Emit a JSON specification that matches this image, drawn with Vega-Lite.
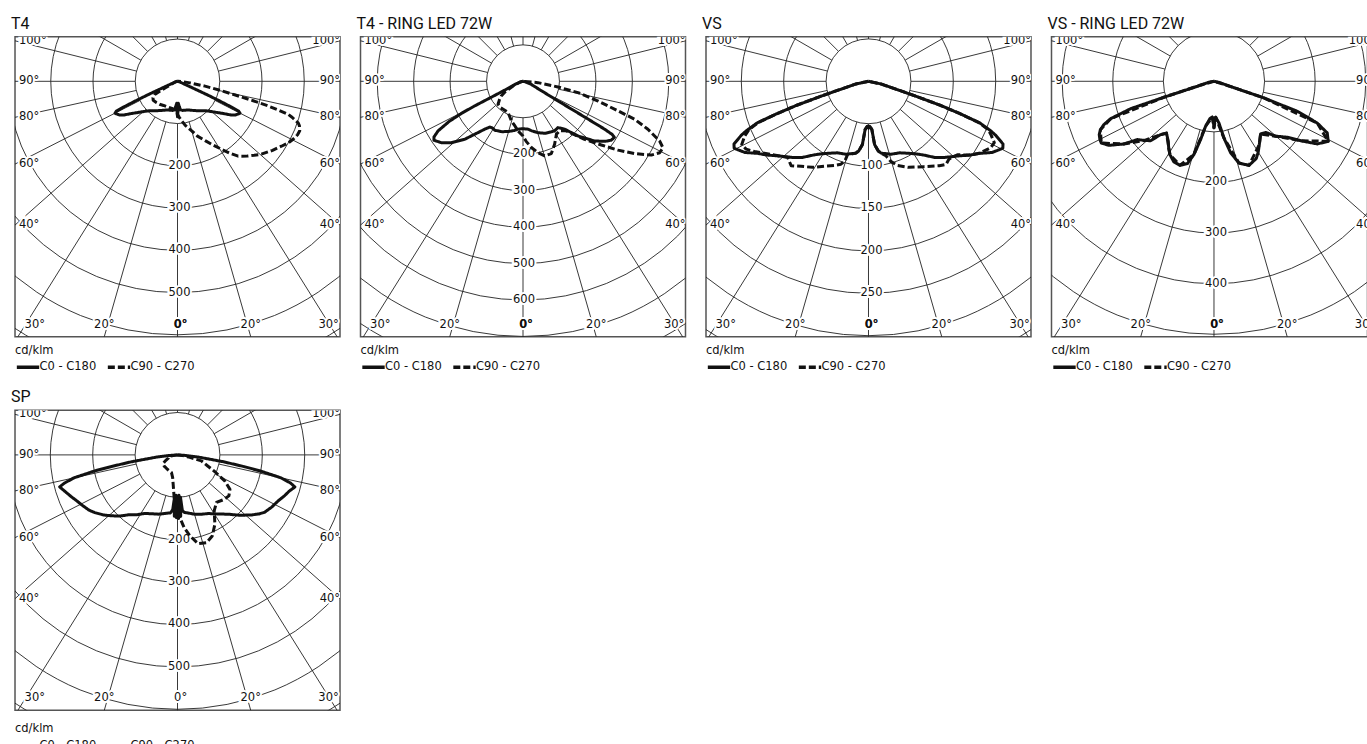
{
"$schema": "https://vega.github.io/schema/vega-lite/v6.json",
"padding": {"left": 10, "top": 14.7, "right": 0, "bottom": 0},
"background": "white",
"bounds": "flush",
"columns": 4,
"spacing": {"row": 73.6, "column": 20.5},
"resolve": {"scale": {"size": "independent", "strokeDash": "independent"}, "legend": {"strokeDash": "independent", "size": "independent"}},
"config": {
 "font": "DejaVu Sans",
 "view": {"stroke": "#555", "strokeWidth": 1.5},
 "title": {"font": "Roboto", "fontSize": 16, "fontWeight": "normal", "anchor": "start", "color": "#111", "offset": 5, "dx": -4},
 "legend": {"orient": "bottom", "direction": "horizontal", "titleOrient": "top", "titleAnchor": "start", "titleFontSize": 11.5, "titleFontWeight": "normal", "titleFont": "DejaVu Sans", "titleColor": "#111", "titlePadding": -2, "labelFontSize": 11.5, "labelFont": "DejaVu Sans", "labelColor": "#111", "labelOffset": -1.5, "symbolType": "stroke", "symbolSize": 500, "symbolStrokeWidth": 3.5, "symbolStrokeColor": "#111", "columnPadding": 3, "offset": 8, "padding": 0}
},
"datasets": {
 "ang": [{"g":0},{"g":16},{"g":-16},{"g":32},{"g":-32},{"g":48.5},{"g":-48.5},{"g":63},{"g":-63},{"g":77.5},{"g":-77.5},{"g":90},{"g":-90},{"g":104},{"g":-104},{"g":120},{"g":-120},{"g":135},{"g":-135},{"g":150},{"g":-150},{"g":165},{"g":-165},{"g":180}],
 "deg": [{"t":"100°","g":-104},{"t":"90°","g":-90},{"t":"80°","g":-77.5},{"t":"60°","g":-63},{"t":"40°","g":-48.5},{"t":"30°","g":-29.2},{"t":"20°","g":-16},{"t":"0°","g":0.7},{"t":"20°","g":16},{"t":"30°","g":30.6},{"t":"40°","g":48.5},{"t":"60°","g":63},{"t":"80°","g":77.5},{"t":"90°","g":90},{"t":"100°","g":104}],
 "circ_a": [{"r":100},{"r":200},{"r":300},{"r":400},{"r":500},{"r":600},{"r":700}],
 "circ_b": [{"r":100},{"r":200},{"r":300},{"r":400},{"r":500},{"r":600},{"r":700},{"r":800}],
 "circ_c": [{"r":50},{"r":100},{"r":150},{"r":200},{"r":250},{"r":300},{"r":350}],
 "circ_d": [{"r":100},{"r":200},{"r":300},{"r":400},{"r":500}],
 "val_a": [{"v":200},{"v":300},{"v":400},{"v":500}],
 "val_b": [{"v":200},{"v":300},{"v":400},{"v":500},{"v":600}],
 "val_c": [{"v":100},{"v":150},{"v":200},{"v":250}],
 "val_d": [{"v":200},{"v":300},{"v":400}],
 "d_t4": [
  {"c":"C0 - C180","g":-90,"v":0},{"c":"C0 - C180","g":-80,"v":3},{"c":"C0 - C180","g":-70,"v":10},{"c":"C0 - C180","g":-67,"v":25},{"c":"C0 - C180","g":-66,"v":50},{"c":"C0 - C180","g":-65.5,"v":80},{"c":"C0 - C180","g":-65,"v":110},{"c":"C0 - C180","g":-64.5,"v":140},{"c":"C0 - C180","g":-64,"v":161},{"c":"C0 - C180","g":-63,"v":166},{"c":"C0 - C180","g":-62,"v":164},{"c":"C0 - C180","g":-60,"v":159},{"c":"C0 - C180","g":-58,"v":151},{"c":"C0 - C180","g":-55,"v":133},{"c":"C0 - C180","g":-50,"v":113},{"c":"C0 - C180","g":-45,"v":99},{"c":"C0 - C180","g":-40,"v":91},{"c":"C0 - C180","g":-30,"v":80},{"c":"C0 - C180","g":-20,"v":72},{"c":"C0 - C180","g":-10,"v":70},{"c":"C0 - C180","g":-6,"v":68},{"c":"C0 - C180","g":-4,"v":60},{"c":"C0 - C180","g":-2,"v":52},{"c":"C0 - C180","g":-1,"v":70},{"c":"C0 - C180","g":0,"v":84},{"c":"C0 - C180","g":1,"v":70},{"c":"C0 - C180","g":2,"v":52},{"c":"C0 - C180","g":4,"v":60},{"c":"C0 - C180","g":6,"v":68},{"c":"C0 - C180","g":10,"v":70},{"c":"C0 - C180","g":20,"v":72},{"c":"C0 - C180","g":30,"v":80},{"c":"C0 - C180","g":40,"v":91},{"c":"C0 - C180","g":45,"v":99},{"c":"C0 - C180","g":50,"v":113},{"c":"C0 - C180","g":55,"v":133},{"c":"C0 - C180","g":58,"v":151},{"c":"C0 - C180","g":60,"v":159},{"c":"C0 - C180","g":62,"v":164},{"c":"C0 - C180","g":63,"v":166},{"c":"C0 - C180","g":64,"v":161},{"c":"C0 - C180","g":64.5,"v":140},{"c":"C0 - C180","g":65,"v":110},{"c":"C0 - C180","g":65.5,"v":80},{"c":"C0 - C180","g":66,"v":50},{"c":"C0 - C180","g":67,"v":25},{"c":"C0 - C180","g":70,"v":10},{"c":"C0 - C180","g":80,"v":3},{"c":"C0 - C180","g":90,"v":0},
  {"c":"C90 - C270","g":-90,"v":0},{"c":"C90 - C270","g":-75,"v":5},{"c":"C90 - C270","g":-65,"v":15},{"c":"C90 - C270","g":-62,"v":30},{"c":"C90 - C270","g":-61,"v":45},{"c":"C90 - C270","g":-60,"v":62},{"c":"C90 - C270","g":-56,"v":70},{"c":"C90 - C270","g":-52,"v":73},{"c":"C90 - C270","g":-45,"v":71},{"c":"C90 - C270","g":-38,"v":69},{"c":"C90 - C270","g":-30,"v":66},{"c":"C90 - C270","g":-20,"v":65},{"c":"C90 - C270","g":-10,"v":66},{"c":"C90 - C270","g":-5,"v":69},{"c":"C90 - C270","g":0,"v":78},{"c":"C90 - C270","g":3,"v":86},{"c":"C90 - C270","g":6,"v":94},{"c":"C90 - C270","g":10,"v":106},{"c":"C90 - C270","g":16,"v":122},{"c":"C90 - C270","g":20,"v":138},{"c":"C90 - C270","g":25,"v":155},{"c":"C90 - C270","g":29,"v":172},{"c":"C90 - C270","g":33,"v":192},{"c":"C90 - C270","g":36,"v":210},{"c":"C90 - C270","g":39,"v":228},{"c":"C90 - C270","g":43,"v":242},{"c":"C90 - C270","g":46,"v":252},{"c":"C90 - C270","g":49,"v":263},{"c":"C90 - C270","g":54,"v":278},{"c":"C90 - C270","g":58,"v":290},{"c":"C90 - C270","g":61,"v":300},{"c":"C90 - C270","g":63.4,"v":306},{"c":"C90 - C270","g":66,"v":311},{"c":"C90 - C270","g":68,"v":312},{"c":"C90 - C270","g":70,"v":307},{"c":"C90 - C270","g":71,"v":302},{"c":"C90 - C270","g":72.5,"v":285},{"c":"C90 - C270","g":73.4,"v":273},{"c":"C90 - C270","g":74.2,"v":245},{"c":"C90 - C270","g":74.8,"v":222},{"c":"C90 - C270","g":75.6,"v":185},{"c":"C90 - C270","g":76.4,"v":148},{"c":"C90 - C270","g":78,"v":105},{"c":"C90 - C270","g":80,"v":66},{"c":"C90 - C270","g":83,"v":30},{"c":"C90 - C270","g":86,"v":12},{"c":"C90 - C270","g":90,"v":0}
 ],
 "d_t4r": [
  {"c":"C0 - C180","g":-90,"v":0},{"c":"C0 - C180","g":-75,"v":8},{"c":"C0 - C180","g":-70,"v":20},{"c":"C0 - C180","g":-64,"v":60},{"c":"C0 - C180","g":-63.3,"v":100},{"c":"C0 - C180","g":-63,"v":150},{"c":"C0 - C180","g":-62.5,"v":190},{"c":"C0 - C180","g":-61.5,"v":230},{"c":"C0 - C180","g":-59.7,"v":270},{"c":"C0 - C180","g":-58,"v":288},{"c":"C0 - C180","g":-56.5,"v":293},{"c":"C0 - C180","g":-53,"v":280},{"c":"C0 - C180","g":-49.4,"v":259},{"c":"C0 - C180","g":-45.2,"v":226},{"c":"C0 - C180","g":-42.4,"v":197},{"c":"C0 - C180","g":-38.6,"v":168},{"c":"C0 - C180","g":-36,"v":155},{"c":"C0 - C180","g":-33,"v":153},{"c":"C0 - C180","g":-30,"v":155},{"c":"C0 - C180","g":-23,"v":150},{"c":"C0 - C180","g":-16.6,"v":144},{"c":"C0 - C180","g":-10,"v":137},{"c":"C0 - C180","g":-6,"v":132},{"c":"C0 - C180","g":0,"v":130},{"c":"C0 - C180","g":6,"v":132},{"c":"C0 - C180","g":10,"v":138},{"c":"C0 - C180","g":16.3,"v":147},{"c":"C0 - C180","g":23,"v":155},{"c":"C0 - C180","g":29.2,"v":159},{"c":"C0 - C180","g":33,"v":161},{"c":"C0 - C180","g":37,"v":159},{"c":"C0 - C180","g":41,"v":174},{"c":"C0 - C180","g":45.2,"v":213},{"c":"C0 - C180","g":50.2,"v":256},{"c":"C0 - C180","g":54,"v":280},{"c":"C0 - C180","g":56.3,"v":291},{"c":"C0 - C180","g":58.5,"v":294},{"c":"C0 - C180","g":59.2,"v":285},{"c":"C0 - C180","g":59.6,"v":260},{"c":"C0 - C180","g":59.9,"v":196},{"c":"C0 - C180","g":60.7,"v":110},{"c":"C0 - C180","g":63,"v":55},{"c":"C0 - C180","g":67,"v":30},{"c":"C0 - C180","g":70,"v":24},{"c":"C0 - C180","g":80,"v":5},{"c":"C0 - C180","g":90,"v":0},
  {"c":"C90 - C270","g":-90,"v":0},{"c":"C90 - C270","g":-75,"v":8},{"c":"C90 - C270","g":-65,"v":30},{"c":"C90 - C270","g":-60,"v":55},{"c":"C90 - C270","g":-56,"v":72},{"c":"C90 - C270","g":-52,"v":82},{"c":"C90 - C270","g":-47.4,"v":93},{"c":"C90 - C270","g":-40,"v":95},{"c":"C90 - C270","g":-33,"v":94},{"c":"C90 - C270","g":-25.6,"v":95},{"c":"C90 - C270","g":-16.4,"v":113},{"c":"C90 - C270","g":-10,"v":125},{"c":"C90 - C270","g":-5.7,"v":137},{"c":"C90 - C270","g":0,"v":150},{"c":"C90 - C270","g":3,"v":165},{"c":"C90 - C270","g":7.2,"v":183},{"c":"C90 - C270","g":11.9,"v":200},{"c":"C90 - C270","g":16.2,"v":213},{"c":"C90 - C270","g":21.4,"v":213},{"c":"C90 - C270","g":26.7,"v":193},{"c":"C90 - C270","g":32.2,"v":172},{"c":"C90 - C270","g":36.4,"v":169},{"c":"C90 - C270","g":41,"v":180},{"c":"C90 - C270","g":46.7,"v":232},{"c":"C90 - C270","g":50.9,"v":277},{"c":"C90 - C270","g":54.1,"v":322},{"c":"C90 - C270","g":57.1,"v":365},{"c":"C90 - C270","g":60.1,"v":406},{"c":"C90 - C270","g":62.4,"v":423},{"c":"C90 - C270","g":64.6,"v":425},{"c":"C90 - C270","g":66.4,"v":409},{"c":"C90 - C270","g":69,"v":367},{"c":"C90 - C270","g":71.2,"v":324},{"c":"C90 - C270","g":72.7,"v":273},{"c":"C90 - C270","g":75.3,"v":213},{"c":"C90 - C270","g":78.4,"v":154},{"c":"C90 - C270","g":80.8,"v":97},{"c":"C90 - C270","g":84.9,"v":41},{"c":"C90 - C270","g":90,"v":0}
 ],
 "d_vs": [
  {"c":"C0 - C180","g":-90,"v":0},{"c":"C0 - C180","g":-78,"v":15},{"c":"C0 - C180","g":-73.5,"v":40},{"c":"C0 - C180","g":-72.5,"v":60},{"c":"C0 - C180","g":-71.5,"v":90},{"c":"C0 - C180","g":-70.5,"v":115},{"c":"C0 - C180","g":-69.5,"v":140},{"c":"C0 - C180","g":-68,"v":155},{"c":"C0 - C180","g":-67,"v":163},{"c":"C0 - C180","g":-65,"v":175},{"c":"C0 - C180","g":-63.5,"v":177},{"c":"C0 - C180","g":-62,"v":173},{"c":"C0 - C180","g":-60,"v":168},{"c":"C0 - C180","g":-57,"v":156},{"c":"C0 - C180","g":-54,"v":148},{"c":"C0 - C180","g":-50,"v":137},{"c":"C0 - C180","g":-45,"v":127},{"c":"C0 - C180","g":-41,"v":119},{"c":"C0 - C180","g":-36.5,"v":108},{"c":"C0 - C180","g":-33,"v":102},{"c":"C0 - C180","g":-28,"v":96},{"c":"C0 - C180","g":-23.5,"v":92},{"c":"C0 - C180","g":-17,"v":90},{"c":"C0 - C180","g":-10,"v":86},{"c":"C0 - C180","g":-8,"v":83},{"c":"C0 - C180","g":-5.5,"v":75},{"c":"C0 - C180","g":-4,"v":57},{"c":"C0 - C180","g":-1.5,"v":53},{"c":"C0 - C180","g":0,"v":55},{"c":"C0 - C180","g":1.5,"v":53},{"c":"C0 - C180","g":4,"v":57},{"c":"C0 - C180","g":5.5,"v":75},{"c":"C0 - C180","g":8,"v":83},{"c":"C0 - C180","g":10,"v":86},{"c":"C0 - C180","g":17,"v":90},{"c":"C0 - C180","g":23.5,"v":92},{"c":"C0 - C180","g":28,"v":96},{"c":"C0 - C180","g":33,"v":102},{"c":"C0 - C180","g":36.5,"v":108},{"c":"C0 - C180","g":41,"v":119},{"c":"C0 - C180","g":45,"v":127},{"c":"C0 - C180","g":50,"v":137},{"c":"C0 - C180","g":54,"v":148},{"c":"C0 - C180","g":57,"v":156},{"c":"C0 - C180","g":60,"v":168},{"c":"C0 - C180","g":62,"v":173},{"c":"C0 - C180","g":63.5,"v":177},{"c":"C0 - C180","g":65,"v":175},{"c":"C0 - C180","g":67,"v":163},{"c":"C0 - C180","g":68,"v":155},{"c":"C0 - C180","g":69.5,"v":140},{"c":"C0 - C180","g":70.5,"v":115},{"c":"C0 - C180","g":71.5,"v":90},{"c":"C0 - C180","g":72.5,"v":60},{"c":"C0 - C180","g":73.5,"v":40},{"c":"C0 - C180","g":78,"v":15},{"c":"C0 - C180","g":90,"v":0},
  {"c":"C90 - C270","g":-90,"v":0},{"c":"C90 - C270","g":-78,"v":15},{"c":"C90 - C270","g":-73.5,"v":40},{"c":"C90 - C270","g":-72.5,"v":60},{"c":"C90 - C270","g":-71.5,"v":90},{"c":"C90 - C270","g":-70.5,"v":115},{"c":"C90 - C270","g":-69.5,"v":139},{"c":"C90 - C270","g":-68,"v":152},{"c":"C90 - C270","g":-66,"v":160},{"c":"C90 - C270","g":-63.5,"v":167},{"c":"C90 - C270","g":-61,"v":165},{"c":"C90 - C270","g":-58.4,"v":158},{"c":"C90 - C270","g":-53.2,"v":144},{"c":"C90 - C270","g":-50,"v":137},{"c":"C90 - C270","g":-46.7,"v":131},{"c":"C90 - C270","g":-42.5,"v":135},{"c":"C90 - C270","g":-38.4,"v":128},{"c":"C90 - C270","g":-33,"v":121},{"c":"C90 - C270","g":-27.6,"v":113},{"c":"C90 - C270","g":-22,"v":107},{"c":"C90 - C270","g":-18.4,"v":103},{"c":"C90 - C270","g":-16.5,"v":98},{"c":"C90 - C270","g":-15.9,"v":90},{"c":"C90 - C270","g":-10,"v":86},{"c":"C90 - C270","g":-8,"v":83},{"c":"C90 - C270","g":-5.5,"v":75},{"c":"C90 - C270","g":-4,"v":57},{"c":"C90 - C270","g":-1.5,"v":53},{"c":"C90 - C270","g":0,"v":55},{"c":"C90 - C270","g":1.5,"v":53},{"c":"C90 - C270","g":4,"v":57},{"c":"C90 - C270","g":5.5,"v":75},{"c":"C90 - C270","g":8,"v":83},{"c":"C90 - C270","g":10,"v":86},{"c":"C90 - C270","g":13.1,"v":90},{"c":"C90 - C270","g":15.5,"v":98},{"c":"C90 - C270","g":19,"v":105},{"c":"C90 - C270","g":25,"v":112},{"c":"C90 - C270","g":33,"v":120},{"c":"C90 - C270","g":40,"v":130},{"c":"C90 - C270","g":43,"v":134},{"c":"C90 - C270","g":46,"v":132},{"c":"C90 - C270","g":50.4,"v":136},{"c":"C90 - C270","g":54,"v":148},{"c":"C90 - C270","g":57,"v":156},{"c":"C90 - C270","g":61.5,"v":164},{"c":"C90 - C270","g":64,"v":165},{"c":"C90 - C270","g":66.6,"v":157},{"c":"C90 - C270","g":68,"v":152},{"c":"C90 - C270","g":69.5,"v":139},{"c":"C90 - C270","g":70.5,"v":115},{"c":"C90 - C270","g":71.5,"v":90},{"c":"C90 - C270","g":72.5,"v":60},{"c":"C90 - C270","g":73.5,"v":40},{"c":"C90 - C270","g":78,"v":15},{"c":"C90 - C270","g":90,"v":0}
 ],
 "d_vsr": [
  {"c":"C90 - C270","g":-90,"v":0},{"c":"C90 - C270","g":-74,"v":28},{"c":"C90 - C270","g":-72.3,"v":104},{"c":"C90 - C270","g":-70.1,"v":217},{"c":"C90 - C270","g":-66.9,"v":244},{"c":"C90 - C270","g":-61.3,"v":254},{"c":"C90 - C270","g":-55.2,"v":217},{"c":"C90 - C270","g":-49.5,"v":180},{"c":"C90 - C270","g":-45,"v":149},{"c":"C90 - C270","g":-42.5,"v":139},{"c":"C90 - C270","g":-31,"v":169},{"c":"C90 - C270","g":-22,"v":179},{"c":"C90 - C270","g":-15.3,"v":150},{"c":"C90 - C270","g":-10.5,"v":90},{"c":"C90 - C270","g":-2.7,"v":71},{"c":"C90 - C270","g":0,"v":92},{"c":"C90 - C270","g":2.7,"v":71},{"c":"C90 - C270","g":10,"v":114},{"c":"C90 - C270","g":17,"v":169},{"c":"C90 - C270","g":22.6,"v":180},{"c":"C90 - C270","g":35.6,"v":154},{"c":"C90 - C270","g":41.5,"v":139},{"c":"C90 - C270","g":48.3,"v":163},{"c":"C90 - C270","g":55.6,"v":208},{"c":"C90 - C270","g":62.3,"v":255},{"c":"C90 - C270","g":68,"v":220},{"c":"C90 - C270","g":71.6,"v":104},{"c":"C90 - C270","g":72.5,"v":35},{"c":"C90 - C270","g":90,"v":0},
  {"c":"C0 - C180","g":-90,"v":0},{"c":"C0 - C180","g":-80,"v":10},{"c":"C0 - C180","g":-74,"v":28},{"c":"C0 - C180","g":-73.3,"v":34},{"c":"C0 - C180","g":-72.3,"v":104},{"c":"C0 - C180","g":-71.8,"v":173},{"c":"C0 - C180","g":-70.1,"v":217},{"c":"C0 - C180","g":-68.5,"v":234},{"c":"C0 - C180","g":-66.9,"v":244},{"c":"C0 - C180","g":-65.1,"v":250},{"c":"C0 - C180","g":-63,"v":253},{"c":"C0 - C180","g":-61.3,"v":254},{"c":"C0 - C180","g":-58.6,"v":243},{"c":"C0 - C180","g":-55.2,"v":217},{"c":"C0 - C180","g":-52.7,"v":190},{"c":"C0 - C180","g":-49.5,"v":180},{"c":"C0 - C180","g":-46.9,"v":172},{"c":"C0 - C180","g":-45,"v":149},{"c":"C0 - C180","g":-42.5,"v":139},{"c":"C0 - C180","g":-37.3,"v":149},{"c":"C0 - C180","g":-34,"v":160},{"c":"C0 - C180","g":-31,"v":169},{"c":"C0 - C180","g":-26.4,"v":178},{"c":"C0 - C180","g":-22,"v":179},{"c":"C0 - C180","g":-17.9,"v":171},{"c":"C0 - C180","g":-15.3,"v":150},{"c":"C0 - C180","g":-12.9,"v":118},{"c":"C0 - C180","g":-10.5,"v":90},{"c":"C0 - C180","g":-6.1,"v":74},{"c":"C0 - C180","g":-2.7,"v":71},{"c":"C0 - C180","g":-1,"v":78},{"c":"C0 - C180","g":0,"v":92},{"c":"C0 - C180","g":1,"v":78},{"c":"C0 - C180","g":2.7,"v":71},{"c":"C0 - C180","g":6.8,"v":83},{"c":"C0 - C180","g":10,"v":114},{"c":"C0 - C180","g":13.1,"v":145},{"c":"C0 - C180","g":17,"v":169},{"c":"C0 - C180","g":22.6,"v":180},{"c":"C0 - C180","g":28.7,"v":174},{"c":"C0 - C180","g":32,"v":165},{"c":"C0 - C180","g":35.6,"v":154},{"c":"C0 - C180","g":41.5,"v":139},{"c":"C0 - C180","g":45.4,"v":144},{"c":"C0 - C180","g":48.3,"v":163},{"c":"C0 - C180","g":52.6,"v":182},{"c":"C0 - C180","g":55.6,"v":208},{"c":"C0 - C180","g":58.8,"v":239},{"c":"C0 - C180","g":62.3,"v":255},{"c":"C0 - C180","g":65.5,"v":246},{"c":"C0 - C180","g":68,"v":220},{"c":"C0 - C180","g":70.2,"v":175},{"c":"C0 - C180","g":71.6,"v":104},{"c":"C0 - C180","g":71.9,"v":60},{"c":"C0 - C180","g":72.5,"v":35},{"c":"C0 - C180","g":78,"v":10},{"c":"C0 - C180","g":90,"v":0}
 ],
 "d_sp": [
  {"c":"C0 - C180","g":-90,"v":0},{"c":"C0 - C180","g":-86,"v":20},{"c":"C0 - C180","g":-84,"v":50},{"c":"C0 - C180","g":-81.5,"v":110},{"c":"C0 - C180","g":-80,"v":160},{"c":"C0 - C180","g":-79,"v":200},{"c":"C0 - C180","g":-77.5,"v":250},{"c":"C0 - C180","g":-76,"v":275},{"c":"C0 - C180","g":-74.8,"v":288},{"c":"C0 - C180","g":-72,"v":279},{"c":"C0 - C180","g":-68.4,"v":269},{"c":"C0 - C180","g":-65,"v":260},{"c":"C0 - C180","g":-62.5,"v":255},{"c":"C0 - C180","g":-58,"v":246},{"c":"C0 - C180","g":-55.1,"v":238},{"c":"C0 - C180","g":-51,"v":225},{"c":"C0 - C180","g":-47.3,"v":212},{"c":"C0 - C180","g":-43,"v":197},{"c":"C0 - C180","g":-39.4,"v":183},{"c":"C0 - C180","g":-34,"v":170},{"c":"C0 - C180","g":-29.1,"v":158},{"c":"C0 - C180","g":-23,"v":151},{"c":"C0 - C180","g":-18,"v":147},{"c":"C0 - C180","g":-14,"v":143},{"c":"C0 - C180","g":-10.7,"v":140},{"c":"C0 - C180","g":-7,"v":138},{"c":"C0 - C180","g":-5,"v":130},{"c":"C0 - C180","g":-4,"v":100},{"c":"C0 - C180","g":-3,"v":145},{"c":"C0 - C180","g":-2,"v":95},{"c":"C0 - C180","g":-1,"v":148},{"c":"C0 - C180","g":0,"v":100},{"c":"C0 - C180","g":1,"v":150},{"c":"C0 - C180","g":2,"v":95},{"c":"C0 - C180","g":3,"v":145},{"c":"C0 - C180","g":4,"v":100},{"c":"C0 - C180","g":5,"v":132},{"c":"C0 - C180","g":7,"v":137},{"c":"C0 - C180","g":10,"v":139},{"c":"C0 - C180","g":16.3,"v":146},{"c":"C0 - C180","g":22,"v":151},{"c":"C0 - C180","g":27.6,"v":156},{"c":"C0 - C180","g":34,"v":168},{"c":"C0 - C180","g":40.5,"v":184},{"c":"C0 - C180","g":46,"v":205},{"c":"C0 - C180","g":51,"v":225},{"c":"C0 - C180","g":54,"v":237},{"c":"C0 - C180","g":56.6,"v":246},{"c":"C0 - C180","g":61,"v":254},{"c":"C0 - C180","g":65.4,"v":261},{"c":"C0 - C180","g":69,"v":270},{"c":"C0 - C180","g":72,"v":277},{"c":"C0 - C180","g":74.7,"v":287},{"c":"C0 - C180","g":76,"v":275},{"c":"C0 - C180","g":77.5,"v":250},{"c":"C0 - C180","g":79,"v":200},{"c":"C0 - C180","g":80,"v":160},{"c":"C0 - C180","g":81.5,"v":110},{"c":"C0 - C180","g":84,"v":50},{"c":"C0 - C180","g":86,"v":20},{"c":"C0 - C180","g":90,"v":0},
  {"c":"C90 - C270","g":-90,"v":0},{"c":"C90 - C270","g":-80,"v":20},{"c":"C90 - C270","g":-70.3,"v":23},{"c":"C90 - C270","g":-64,"v":32},{"c":"C90 - C270","g":-58.8,"v":40},{"c":"C90 - C270","g":-50,"v":41},{"c":"C90 - C270","g":-39.5,"v":41},{"c":"C90 - C270","g":-30,"v":42},{"c":"C90 - C270","g":-18.8,"v":44},{"c":"C90 - C270","g":-12,"v":55},{"c":"C90 - C270","g":-8.4,"v":70},{"c":"C90 - C270","g":-4.5,"v":101},{"c":"C90 - C270","g":-1.1,"v":124},{"c":"C90 - C270","g":2.1,"v":148},{"c":"C90 - C270","g":5.2,"v":172},{"c":"C90 - C270","g":8.7,"v":193},{"c":"C90 - C270","g":13.1,"v":215},{"c":"C90 - C270","g":18.3,"v":218},{"c":"C90 - C270","g":23.2,"v":208},{"c":"C90 - C270","g":28.3,"v":186},{"c":"C90 - C270","g":33.2,"v":158},{"c":"C90 - C270","g":39.3,"v":145},{"c":"C90 - C270","g":46.3,"v":152},{"c":"C90 - C270","g":51.4,"v":155},{"c":"C90 - C270","g":56.7,"v":148},{"c":"C90 - C270","g":61.2,"v":127},{"c":"C90 - C270","g":65.9,"v":96},{"c":"C90 - C270","g":70,"v":75},{"c":"C90 - C270","g":76,"v":58},{"c":"C90 - C270","g":79.4,"v":26},{"c":"C90 - C270","g":83,"v":12},{"c":"C90 - C270","g":90,"v":0}
 ]
},
"concat": [
 {
  "title": {"text": "T4"},
  "width": 325, "height": 300,
  "encoding": {
   "x": {"field": "x", "type": "quantitative", "scale": {"domain": [-384.6, 384.6], "nice": false, "zero": false}, "axis": null},
   "y": {"field": "y", "type": "quantitative", "scale": {"domain": [-604.5, 105.6], "nice": false, "zero": false}, "axis": null}
  },
  "layer": [
   {"data": {"name": "circ_a"}, "transform": [{"calculate": "0", "as": "x"}, {"calculate": "0", "as": "y"}], "mark": {"type": "point", "shape": "circle", "filled": false, "color": "#222", "strokeWidth": 0.9, "opacity": 1, "clip": true}, "encoding": {"size": {"field": "r", "type": "quantitative", "scale": {"type": "pow", "exponent": 2, "domain": [0, 700], "range": [0, 349872]}, "legend": null}}},
   {"data": {"name": "ang"}, "transform": [{"calculate": "100*sin(datum.g*PI/180)", "as": "x"}, {"calculate": "-100*cos(datum.g*PI/180)", "as": "y"}, {"calculate": "3000*sin(datum.g*PI/180)", "as": "x2"}, {"calculate": "-3000*cos(datum.g*PI/180)", "as": "y2"}], "mark": {"type": "rule", "color": "#222", "strokeWidth": 0.9, "clip": true}, "encoding": {"x2": {"field": "x2"}, "y2": {"field": "y2"}}},
   {"data": {"name": "val_a"}, "transform": [{"calculate": "0", "as": "x"}, {"calculate": "-datum.v", "as": "y"}], "mark": {"type": "text", "fontSize": 11.5, "dx": 2, "fill": "white", "stroke": "white", "strokeWidth": 4, "clip": true}, "encoding": {"text": {"field": "v", "type": "nominal"}}},
   {"data": {"name": "val_a"}, "transform": [{"calculate": "0", "as": "x"}, {"calculate": "-datum.v", "as": "y"}], "mark": {"type": "text", "fontSize": 11.5, "dx": 2, "fill": "#111", "clip": true}, "encoding": {"text": {"field": "v", "type": "nominal"}}},
   {"data": {"name": "deg"}, "transform": [{"filter": "datum.g <= -40"}, {"calculate": "-384.6", "as": "x"}, {"calculate": "-384.6*cos(datum.g*PI/180)/abs(sin(datum.g*PI/180))", "as": "y"}], "mark": {"type": "text", "align": "left", "dx": 4, "fontSize": 11.5, "fill": "white", "stroke": "white", "strokeWidth": 4, "clip": true}, "encoding": {"text": {"field": "t"}}},
   {"data": {"name": "deg"}, "transform": [{"filter": "datum.g <= -40"}, {"calculate": "-384.6", "as": "x"}, {"calculate": "-384.6*cos(datum.g*PI/180)/abs(sin(datum.g*PI/180))", "as": "y"}], "mark": {"type": "text", "align": "left", "dx": 4, "fontSize": 11.5, "fill": "#111", "clip": true}, "encoding": {"text": {"field": "t"}}},
   {"data": {"name": "deg"}, "transform": [{"filter": "datum.g >= 40"}, {"calculate": "384.6", "as": "x"}, {"calculate": "-384.6*cos(datum.g*PI/180)/abs(sin(datum.g*PI/180))", "as": "y"}], "mark": {"type": "text", "align": "right", "dx": 0, "fontSize": 11.5, "fill": "white", "stroke": "white", "strokeWidth": 4, "clip": true}, "encoding": {"text": {"field": "t"}}},
   {"data": {"name": "deg"}, "transform": [{"filter": "datum.g >= 40"}, {"calculate": "384.6", "as": "x"}, {"calculate": "-384.6*cos(datum.g*PI/180)/abs(sin(datum.g*PI/180))", "as": "y"}], "mark": {"type": "text", "align": "right", "dx": 0, "fontSize": 11.5, "fill": "#111", "clip": true}, "encoding": {"text": {"field": "t"}}},
   {"data": {"name": "deg"}, "transform": [{"filter": "abs(datum.g) < 31"}, {"calculate": "604.5*tan(datum.g*PI/180)", "as": "x"}, {"calculate": "-604.5", "as": "y"}], "mark": {"type": "text", "dy": -12, "fontSize": 11.5, "fill": "white", "stroke": "white", "strokeWidth": 4, "clip": true}, "encoding": {"text": {"field": "t"}}},
   {"data": {"name": "deg"}, "transform": [{"filter": "abs(datum.g) < 31"}, {"calculate": "604.5*tan(datum.g*PI/180)", "as": "x"}, {"calculate": "-604.5", "as": "y"}], "mark": {"type": "text", "dy": -12, "fontSize": 11.5, "fill": "#111", "clip": true}, "encoding": {"text": {"field": "t"}}},
   {"data": {"name": "deg"}, "transform": [{"filter": "datum.t == '0°'"}, {"calculate": "604.5*tan(datum.g*PI/180)", "as": "x"}, {"calculate": "-604.5", "as": "y"}], "mark": {"type": "text", "dy": -12, "fontSize": 11.5, "fontWeight": "bold", "fill": "#111", "clip": true}, "encoding": {"text": {"field": "t"}}},
   {"data": {"name": "d_t4"}, "transform": [{"calculate": "datum.v*sin(datum.g*PI/180)", "as": "x"}, {"calculate": "-datum.v*cos(datum.g*PI/180)", "as": "y"}], "mark": {"type": "line", "color": "#111", "strokeWidth": 3, "clip": true, "strokeJoin": "round"}, "encoding": {"strokeDash": {"field": "c", "type": "nominal", "scale": {"domain": ["C0 - C180", "C90 - C270"], "range": [[1, 0], [7, 3]]}, "legend": {"title": "cd/klm"}}, "order": {"field": "g", "type": "quantitative"}}}
  ]
 },
 {
  "title": {"text": "T4 - RING LED 72W"},
  "width": 325, "height": 300,
  "encoding": {
   "x": {"field": "x", "type": "quantitative", "scale": {"domain": [-445.8, 445.8], "nice": false, "zero": false}, "axis": null},
   "y": {"field": "y", "type": "quantitative", "scale": {"domain": [-700.7, 122.4], "nice": false, "zero": false}, "axis": null}
  },
  "layer": [
   {"data": {"name": "circ_b"}, "transform": [{"calculate": "0", "as": "x"}, {"calculate": "0", "as": "y"}], "mark": {"type": "point", "shape": "circle", "filled": false, "color": "#222", "strokeWidth": 0.9, "opacity": 1, "clip": true}, "encoding": {"size": {"field": "r", "type": "quantitative", "scale": {"type": "pow", "exponent": 2, "domain": [0, 800], "range": [0, 340122]}, "legend": null}}},
   {"data": {"name": "ang"}, "transform": [{"calculate": "100*sin(datum.g*PI/180)", "as": "x"}, {"calculate": "-100*cos(datum.g*PI/180)", "as": "y"}, {"calculate": "3000*sin(datum.g*PI/180)", "as": "x2"}, {"calculate": "-3000*cos(datum.g*PI/180)", "as": "y2"}], "mark": {"type": "rule", "color": "#222", "strokeWidth": 0.9, "clip": true}, "encoding": {"x2": {"field": "x2"}, "y2": {"field": "y2"}}},
   {"data": {"name": "val_b"}, "transform": [{"calculate": "0", "as": "x"}, {"calculate": "-datum.v", "as": "y"}], "mark": {"type": "text", "fontSize": 11.5, "dx": 1, "fill": "white", "stroke": "white", "strokeWidth": 4, "clip": true}, "encoding": {"text": {"field": "v", "type": "nominal"}}},
   {"data": {"name": "val_b"}, "transform": [{"calculate": "0", "as": "x"}, {"calculate": "-datum.v", "as": "y"}], "mark": {"type": "text", "fontSize": 11.5, "dx": 1, "fill": "#111", "clip": true}, "encoding": {"text": {"field": "v", "type": "nominal"}}},
   {"data": {"name": "deg"}, "transform": [{"filter": "datum.g <= -40"}, {"calculate": "-445.8", "as": "x"}, {"calculate": "-445.8*cos(datum.g*PI/180)/abs(sin(datum.g*PI/180))", "as": "y"}], "mark": {"type": "text", "align": "left", "dx": 4, "fontSize": 11.5, "fill": "white", "stroke": "white", "strokeWidth": 4, "clip": true}, "encoding": {"text": {"field": "t"}}},
   {"data": {"name": "deg"}, "transform": [{"filter": "datum.g <= -40"}, {"calculate": "-445.8", "as": "x"}, {"calculate": "-445.8*cos(datum.g*PI/180)/abs(sin(datum.g*PI/180))", "as": "y"}], "mark": {"type": "text", "align": "left", "dx": 4, "fontSize": 11.5, "fill": "#111", "clip": true}, "encoding": {"text": {"field": "t"}}},
   {"data": {"name": "deg"}, "transform": [{"filter": "datum.g >= 40"}, {"calculate": "445.8", "as": "x"}, {"calculate": "-445.8*cos(datum.g*PI/180)/abs(sin(datum.g*PI/180))", "as": "y"}], "mark": {"type": "text", "align": "right", "dx": 0, "fontSize": 11.5, "fill": "white", "stroke": "white", "strokeWidth": 4, "clip": true}, "encoding": {"text": {"field": "t"}}},
   {"data": {"name": "deg"}, "transform": [{"filter": "datum.g >= 40"}, {"calculate": "445.8", "as": "x"}, {"calculate": "-445.8*cos(datum.g*PI/180)/abs(sin(datum.g*PI/180))", "as": "y"}], "mark": {"type": "text", "align": "right", "dx": 0, "fontSize": 11.5, "fill": "#111", "clip": true}, "encoding": {"text": {"field": "t"}}},
   {"data": {"name": "deg"}, "transform": [{"filter": "abs(datum.g) < 31"}, {"calculate": "700.7*tan(datum.g*PI/180)", "as": "x"}, {"calculate": "-700.7", "as": "y"}], "mark": {"type": "text", "dy": -12, "fontSize": 11.5, "fill": "white", "stroke": "white", "strokeWidth": 4, "clip": true}, "encoding": {"text": {"field": "t"}}},
   {"data": {"name": "deg"}, "transform": [{"filter": "abs(datum.g) < 31"}, {"calculate": "700.7*tan(datum.g*PI/180)", "as": "x"}, {"calculate": "-700.7", "as": "y"}], "mark": {"type": "text", "dy": -12, "fontSize": 11.5, "fill": "#111", "clip": true}, "encoding": {"text": {"field": "t"}}},
   {"data": {"name": "deg"}, "transform": [{"filter": "datum.t == '0°'"}, {"calculate": "700.7*tan(datum.g*PI/180)", "as": "x"}, {"calculate": "-700.7", "as": "y"}], "mark": {"type": "text", "dy": -12, "fontSize": 11.5, "fontWeight": "bold", "fill": "#111", "clip": true}, "encoding": {"text": {"field": "t"}}},
   {"data": {"name": "d_t4r"}, "transform": [{"calculate": "datum.v*sin(datum.g*PI/180)", "as": "x"}, {"calculate": "-datum.v*cos(datum.g*PI/180)", "as": "y"}], "mark": {"type": "line", "color": "#111", "strokeWidth": 3, "clip": true, "strokeJoin": "round"}, "encoding": {"strokeDash": {"field": "c", "type": "nominal", "scale": {"domain": ["C0 - C180", "C90 - C270"], "range": [[1, 0], [7, 3]]}, "legend": {"title": "cd/klm"}}, "order": {"field": "g", "type": "quantitative"}}}
  ]
 },
 {
  "title": {"text": "VS"},
  "width": 325, "height": 300,
  "encoding": {
   "x": {"field": "x", "type": "quantitative", "scale": {"domain": [-191.6, 191.6], "nice": false, "zero": false}, "axis": null},
   "y": {"field": "y", "type": "quantitative", "scale": {"domain": [-301.2, 52.6], "nice": false, "zero": false}, "axis": null}
  },
  "layer": [
   {"data": {"name": "circ_c"}, "transform": [{"calculate": "0", "as": "x"}, {"calculate": "0", "as": "y"}], "mark": {"type": "point", "shape": "circle", "filled": false, "color": "#222", "strokeWidth": 0.9, "opacity": 1, "clip": true}, "encoding": {"size": {"field": "r", "type": "quantitative", "scale": {"type": "pow", "exponent": 2, "domain": [0, 350], "range": [0, 352361]}, "legend": null}}},
   {"data": {"name": "ang"}, "transform": [{"calculate": "50*sin(datum.g*PI/180)", "as": "x"}, {"calculate": "-50*cos(datum.g*PI/180)", "as": "y"}, {"calculate": "3000*sin(datum.g*PI/180)", "as": "x2"}, {"calculate": "-3000*cos(datum.g*PI/180)", "as": "y2"}], "mark": {"type": "rule", "color": "#222", "strokeWidth": 0.9, "clip": true}, "encoding": {"x2": {"field": "x2"}, "y2": {"field": "y2"}}},
   {"data": {"name": "val_c"}, "transform": [{"calculate": "0", "as": "x"}, {"calculate": "-datum.v", "as": "y"}], "mark": {"type": "text", "fontSize": 11.5, "dx": 3, "fill": "white", "stroke": "white", "strokeWidth": 4, "clip": true}, "encoding": {"text": {"field": "v", "type": "nominal"}}},
   {"data": {"name": "val_c"}, "transform": [{"calculate": "0", "as": "x"}, {"calculate": "-datum.v", "as": "y"}], "mark": {"type": "text", "fontSize": 11.5, "dx": 3, "fill": "#111", "clip": true}, "encoding": {"text": {"field": "v", "type": "nominal"}}},
   {"data": {"name": "deg"}, "transform": [{"filter": "datum.g <= -40"}, {"calculate": "-191.6", "as": "x"}, {"calculate": "-191.6*cos(datum.g*PI/180)/abs(sin(datum.g*PI/180))", "as": "y"}], "mark": {"type": "text", "align": "left", "dx": 4, "fontSize": 11.5, "fill": "white", "stroke": "white", "strokeWidth": 4, "clip": true}, "encoding": {"text": {"field": "t"}}},
   {"data": {"name": "deg"}, "transform": [{"filter": "datum.g <= -40"}, {"calculate": "-191.6", "as": "x"}, {"calculate": "-191.6*cos(datum.g*PI/180)/abs(sin(datum.g*PI/180))", "as": "y"}], "mark": {"type": "text", "align": "left", "dx": 4, "fontSize": 11.5, "fill": "#111", "clip": true}, "encoding": {"text": {"field": "t"}}},
   {"data": {"name": "deg"}, "transform": [{"filter": "datum.g >= 40"}, {"calculate": "191.6", "as": "x"}, {"calculate": "-191.6*cos(datum.g*PI/180)/abs(sin(datum.g*PI/180))", "as": "y"}], "mark": {"type": "text", "align": "right", "dx": 0, "fontSize": 11.5, "fill": "white", "stroke": "white", "strokeWidth": 4, "clip": true}, "encoding": {"text": {"field": "t"}}},
   {"data": {"name": "deg"}, "transform": [{"filter": "datum.g >= 40"}, {"calculate": "191.6", "as": "x"}, {"calculate": "-191.6*cos(datum.g*PI/180)/abs(sin(datum.g*PI/180))", "as": "y"}], "mark": {"type": "text", "align": "right", "dx": 0, "fontSize": 11.5, "fill": "#111", "clip": true}, "encoding": {"text": {"field": "t"}}},
   {"data": {"name": "deg"}, "transform": [{"filter": "abs(datum.g) < 31"}, {"calculate": "301.2*tan(datum.g*PI/180)", "as": "x"}, {"calculate": "-301.2", "as": "y"}], "mark": {"type": "text", "dy": -12, "fontSize": 11.5, "fill": "white", "stroke": "white", "strokeWidth": 4, "clip": true}, "encoding": {"text": {"field": "t"}}},
   {"data": {"name": "deg"}, "transform": [{"filter": "abs(datum.g) < 31"}, {"calculate": "301.2*tan(datum.g*PI/180)", "as": "x"}, {"calculate": "-301.2", "as": "y"}], "mark": {"type": "text", "dy": -12, "fontSize": 11.5, "fill": "#111", "clip": true}, "encoding": {"text": {"field": "t"}}},
   {"data": {"name": "deg"}, "transform": [{"filter": "datum.t == '0°'"}, {"calculate": "301.2*tan(datum.g*PI/180)", "as": "x"}, {"calculate": "-301.2", "as": "y"}], "mark": {"type": "text", "dy": -12, "fontSize": 11.5, "fontWeight": "bold", "fill": "#111", "clip": true}, "encoding": {"text": {"field": "t"}}},
   {"data": {"name": "d_vs"}, "transform": [{"calculate": "datum.v*sin(datum.g*PI/180)", "as": "x"}, {"calculate": "-datum.v*cos(datum.g*PI/180)", "as": "y"}], "mark": {"type": "line", "color": "#111", "strokeWidth": 3, "clip": true, "strokeJoin": "round"}, "encoding": {"strokeDash": {"field": "c", "type": "nominal", "scale": {"domain": ["C0 - C180", "C90 - C270"], "range": [[1, 0], [7, 3]]}, "legend": {"title": "cd/klm"}}, "order": {"field": "g", "type": "quantitative"}}}
  ]
 },
 {
  "title": {"text": "VS - RING LED 72W"},
  "width": 316, "height": 300,
  "encoding": {
   "x": {"field": "x", "type": "quantitative", "scale": {"domain": [-321.1, 303.4], "nice": false, "zero": false}, "axis": null},
   "y": {"field": "y", "type": "quantitative", "scale": {"domain": [-504.7, 88.1], "nice": false, "zero": false}, "axis": null}
  },
  "layer": [
   {"data": {"name": "circ_d"}, "transform": [{"calculate": "0", "as": "x"}, {"calculate": "0", "as": "y"}], "mark": {"type": "point", "shape": "circle", "filled": false, "color": "#222", "strokeWidth": 0.9, "opacity": 1, "clip": true}, "encoding": {"size": {"field": "r", "type": "quantitative", "scale": {"type": "pow", "exponent": 2, "domain": [0, 500], "range": [0, 256036]}, "legend": null}}},
   {"data": {"name": "ang"}, "transform": [{"calculate": "100*sin(datum.g*PI/180)", "as": "x"}, {"calculate": "-100*cos(datum.g*PI/180)", "as": "y"}, {"calculate": "3000*sin(datum.g*PI/180)", "as": "x2"}, {"calculate": "-3000*cos(datum.g*PI/180)", "as": "y2"}], "mark": {"type": "rule", "color": "#222", "strokeWidth": 0.9, "clip": true}, "encoding": {"x2": {"field": "x2"}, "y2": {"field": "y2"}}},
   {"data": {"name": "val_d"}, "transform": [{"calculate": "0", "as": "x"}, {"calculate": "-datum.v", "as": "y"}], "mark": {"type": "text", "fontSize": 11.5, "dx": 2, "fill": "white", "stroke": "white", "strokeWidth": 4, "clip": true}, "encoding": {"text": {"field": "v", "type": "nominal"}}},
   {"data": {"name": "val_d"}, "transform": [{"calculate": "0", "as": "x"}, {"calculate": "-datum.v", "as": "y"}], "mark": {"type": "text", "fontSize": 11.5, "dx": 2, "fill": "#111", "clip": true}, "encoding": {"text": {"field": "v", "type": "nominal"}}},
   {"data": {"name": "deg"}, "transform": [{"filter": "datum.g <= -40"}, {"calculate": "-321.1", "as": "x"}, {"calculate": "-321.1*cos(datum.g*PI/180)/abs(sin(datum.g*PI/180))", "as": "y"}], "mark": {"type": "text", "align": "left", "dx": 4, "fontSize": 11.5, "fill": "white", "stroke": "white", "strokeWidth": 4, "clip": true}, "encoding": {"text": {"field": "t"}}},
   {"data": {"name": "deg"}, "transform": [{"filter": "datum.g <= -40"}, {"calculate": "-321.1", "as": "x"}, {"calculate": "-321.1*cos(datum.g*PI/180)/abs(sin(datum.g*PI/180))", "as": "y"}], "mark": {"type": "text", "align": "left", "dx": 4, "fontSize": 11.5, "fill": "#111", "clip": true}, "encoding": {"text": {"field": "t"}}},
   {"data": {"name": "deg"}, "transform": [{"filter": "datum.g >= 40"}, {"calculate": "321.1", "as": "x"}, {"calculate": "-321.1*cos(datum.g*PI/180)/abs(sin(datum.g*PI/180))", "as": "y"}], "mark": {"type": "text", "align": "right", "dx": 0, "fontSize": 11.5, "fill": "white", "stroke": "white", "strokeWidth": 4, "clip": true}, "encoding": {"text": {"field": "t"}}},
   {"data": {"name": "deg"}, "transform": [{"filter": "datum.g >= 40"}, {"calculate": "321.1", "as": "x"}, {"calculate": "-321.1*cos(datum.g*PI/180)/abs(sin(datum.g*PI/180))", "as": "y"}], "mark": {"type": "text", "align": "right", "dx": 0, "fontSize": 11.5, "fill": "#111", "clip": true}, "encoding": {"text": {"field": "t"}}},
   {"data": {"name": "deg"}, "transform": [{"filter": "abs(datum.g) < 31"}, {"calculate": "504.7*tan(datum.g*PI/180)", "as": "x"}, {"calculate": "-504.7", "as": "y"}], "mark": {"type": "text", "dy": -12, "fontSize": 11.5, "fill": "white", "stroke": "white", "strokeWidth": 4, "clip": true}, "encoding": {"text": {"field": "t"}}},
   {"data": {"name": "deg"}, "transform": [{"filter": "abs(datum.g) < 31"}, {"calculate": "504.7*tan(datum.g*PI/180)", "as": "x"}, {"calculate": "-504.7", "as": "y"}], "mark": {"type": "text", "dy": -12, "fontSize": 11.5, "fill": "#111", "clip": true}, "encoding": {"text": {"field": "t"}}},
   {"data": {"name": "deg"}, "transform": [{"filter": "datum.t == '0°'"}, {"calculate": "504.7*tan(datum.g*PI/180)", "as": "x"}, {"calculate": "-504.7", "as": "y"}], "mark": {"type": "text", "dy": -12, "fontSize": 11.5, "fontWeight": "bold", "fill": "#111", "clip": true}, "encoding": {"text": {"field": "t"}}},
   {"data": {"name": "d_vsr"}, "transform": [{"calculate": "datum.v*sin(datum.g*PI/180)", "as": "x"}, {"calculate": "-datum.v*cos(datum.g*PI/180)", "as": "y"}], "mark": {"type": "line", "color": "#111", "strokeWidth": 3, "clip": true, "strokeJoin": "round"}, "encoding": {"strokeDash": {"field": "c", "type": "nominal", "scale": {"domain": ["C0 - C180", "C90 - C270"], "range": [[1, 0], [7, 3]]}, "legend": {"title": "cd/klm"}}, "order": {"field": "g", "type": "quantitative"}}}
  ]
 },
 {
  "title": {"text": "SP"},
  "width": 325, "height": 300,
  "encoding": {
   "x": {"field": "x", "type": "quantitative", "scale": {"domain": [-383.3, 383.3], "nice": false, "zero": false}, "axis": null},
   "y": {"field": "y", "type": "quantitative", "scale": {"domain": [-602.4, 105.2], "nice": false, "zero": false}, "axis": null}
  },
  "layer": [
   {"data": {"name": "circ_a"}, "transform": [{"calculate": "0", "as": "x"}, {"calculate": "0", "as": "y"}], "mark": {"type": "point", "shape": "circle", "filled": false, "color": "#222", "strokeWidth": 0.9, "opacity": 1, "clip": true}, "encoding": {"size": {"field": "r", "type": "quantitative", "scale": {"type": "pow", "exponent": 2, "domain": [0, 700], "range": [0, 352361]}, "legend": null}}},
   {"data": {"name": "ang"}, "transform": [{"calculate": "100*sin(datum.g*PI/180)", "as": "x"}, {"calculate": "-100*cos(datum.g*PI/180)", "as": "y"}, {"calculate": "3000*sin(datum.g*PI/180)", "as": "x2"}, {"calculate": "-3000*cos(datum.g*PI/180)", "as": "y2"}], "mark": {"type": "rule", "color": "#222", "strokeWidth": 0.9, "clip": true}, "encoding": {"x2": {"field": "x2"}, "y2": {"field": "y2"}}},
   {"data": {"name": "val_a"}, "transform": [{"calculate": "0", "as": "x"}, {"calculate": "-datum.v", "as": "y"}], "mark": {"type": "text", "fontSize": 11.5, "dx": 1.5, "fill": "white", "stroke": "white", "strokeWidth": 4, "clip": true}, "encoding": {"text": {"field": "v", "type": "nominal"}}},
   {"data": {"name": "val_a"}, "transform": [{"calculate": "0", "as": "x"}, {"calculate": "-datum.v", "as": "y"}], "mark": {"type": "text", "fontSize": 11.5, "dx": 1.5, "fill": "#111", "clip": true}, "encoding": {"text": {"field": "v", "type": "nominal"}}},
   {"data": {"name": "deg"}, "transform": [{"filter": "datum.g <= -40"}, {"calculate": "-383.3", "as": "x"}, {"calculate": "-383.3*cos(datum.g*PI/180)/abs(sin(datum.g*PI/180))", "as": "y"}], "mark": {"type": "text", "align": "left", "dx": 4, "fontSize": 11.5, "fill": "white", "stroke": "white", "strokeWidth": 4, "clip": true}, "encoding": {"text": {"field": "t"}}},
   {"data": {"name": "deg"}, "transform": [{"filter": "datum.g <= -40"}, {"calculate": "-383.3", "as": "x"}, {"calculate": "-383.3*cos(datum.g*PI/180)/abs(sin(datum.g*PI/180))", "as": "y"}], "mark": {"type": "text", "align": "left", "dx": 4, "fontSize": 11.5, "fill": "#111", "clip": true}, "encoding": {"text": {"field": "t"}}},
   {"data": {"name": "deg"}, "transform": [{"filter": "datum.g >= 40"}, {"calculate": "383.3", "as": "x"}, {"calculate": "-383.3*cos(datum.g*PI/180)/abs(sin(datum.g*PI/180))", "as": "y"}], "mark": {"type": "text", "align": "right", "dx": 0, "fontSize": 11.5, "fill": "white", "stroke": "white", "strokeWidth": 4, "clip": true}, "encoding": {"text": {"field": "t"}}},
   {"data": {"name": "deg"}, "transform": [{"filter": "datum.g >= 40"}, {"calculate": "383.3", "as": "x"}, {"calculate": "-383.3*cos(datum.g*PI/180)/abs(sin(datum.g*PI/180))", "as": "y"}], "mark": {"type": "text", "align": "right", "dx": 0, "fontSize": 11.5, "fill": "#111", "clip": true}, "encoding": {"text": {"field": "t"}}},
   {"data": {"name": "deg"}, "transform": [{"filter": "abs(datum.g) < 31"}, {"calculate": "602.4*tan(datum.g*PI/180)", "as": "x"}, {"calculate": "-602.4", "as": "y"}], "mark": {"type": "text", "dy": -12, "fontSize": 11.5, "fill": "white", "stroke": "white", "strokeWidth": 4, "clip": true}, "encoding": {"text": {"field": "t"}}},
   {"data": {"name": "deg"}, "transform": [{"filter": "abs(datum.g) < 31"}, {"calculate": "602.4*tan(datum.g*PI/180)", "as": "x"}, {"calculate": "-602.4", "as": "y"}], "mark": {"type": "text", "dy": -12, "fontSize": 11.5, "fill": "#111", "clip": true}, "encoding": {"text": {"field": "t"}}},
   {"data": {"name": "d_sp"}, "transform": [{"calculate": "datum.v*sin(datum.g*PI/180)", "as": "x"}, {"calculate": "-datum.v*cos(datum.g*PI/180)", "as": "y"}], "mark": {"type": "line", "color": "#111", "strokeWidth": 3, "clip": true, "strokeJoin": "round"}, "encoding": {"strokeDash": {"field": "c", "type": "nominal", "scale": {"domain": ["C0 - C180", "C90 - C270"], "range": [[1, 0], [7, 3]]}, "legend": {"title": "cd/klm", "offset": 13}}, "order": {"field": "g", "type": "quantitative"}}}
  ]
 }
]
}
